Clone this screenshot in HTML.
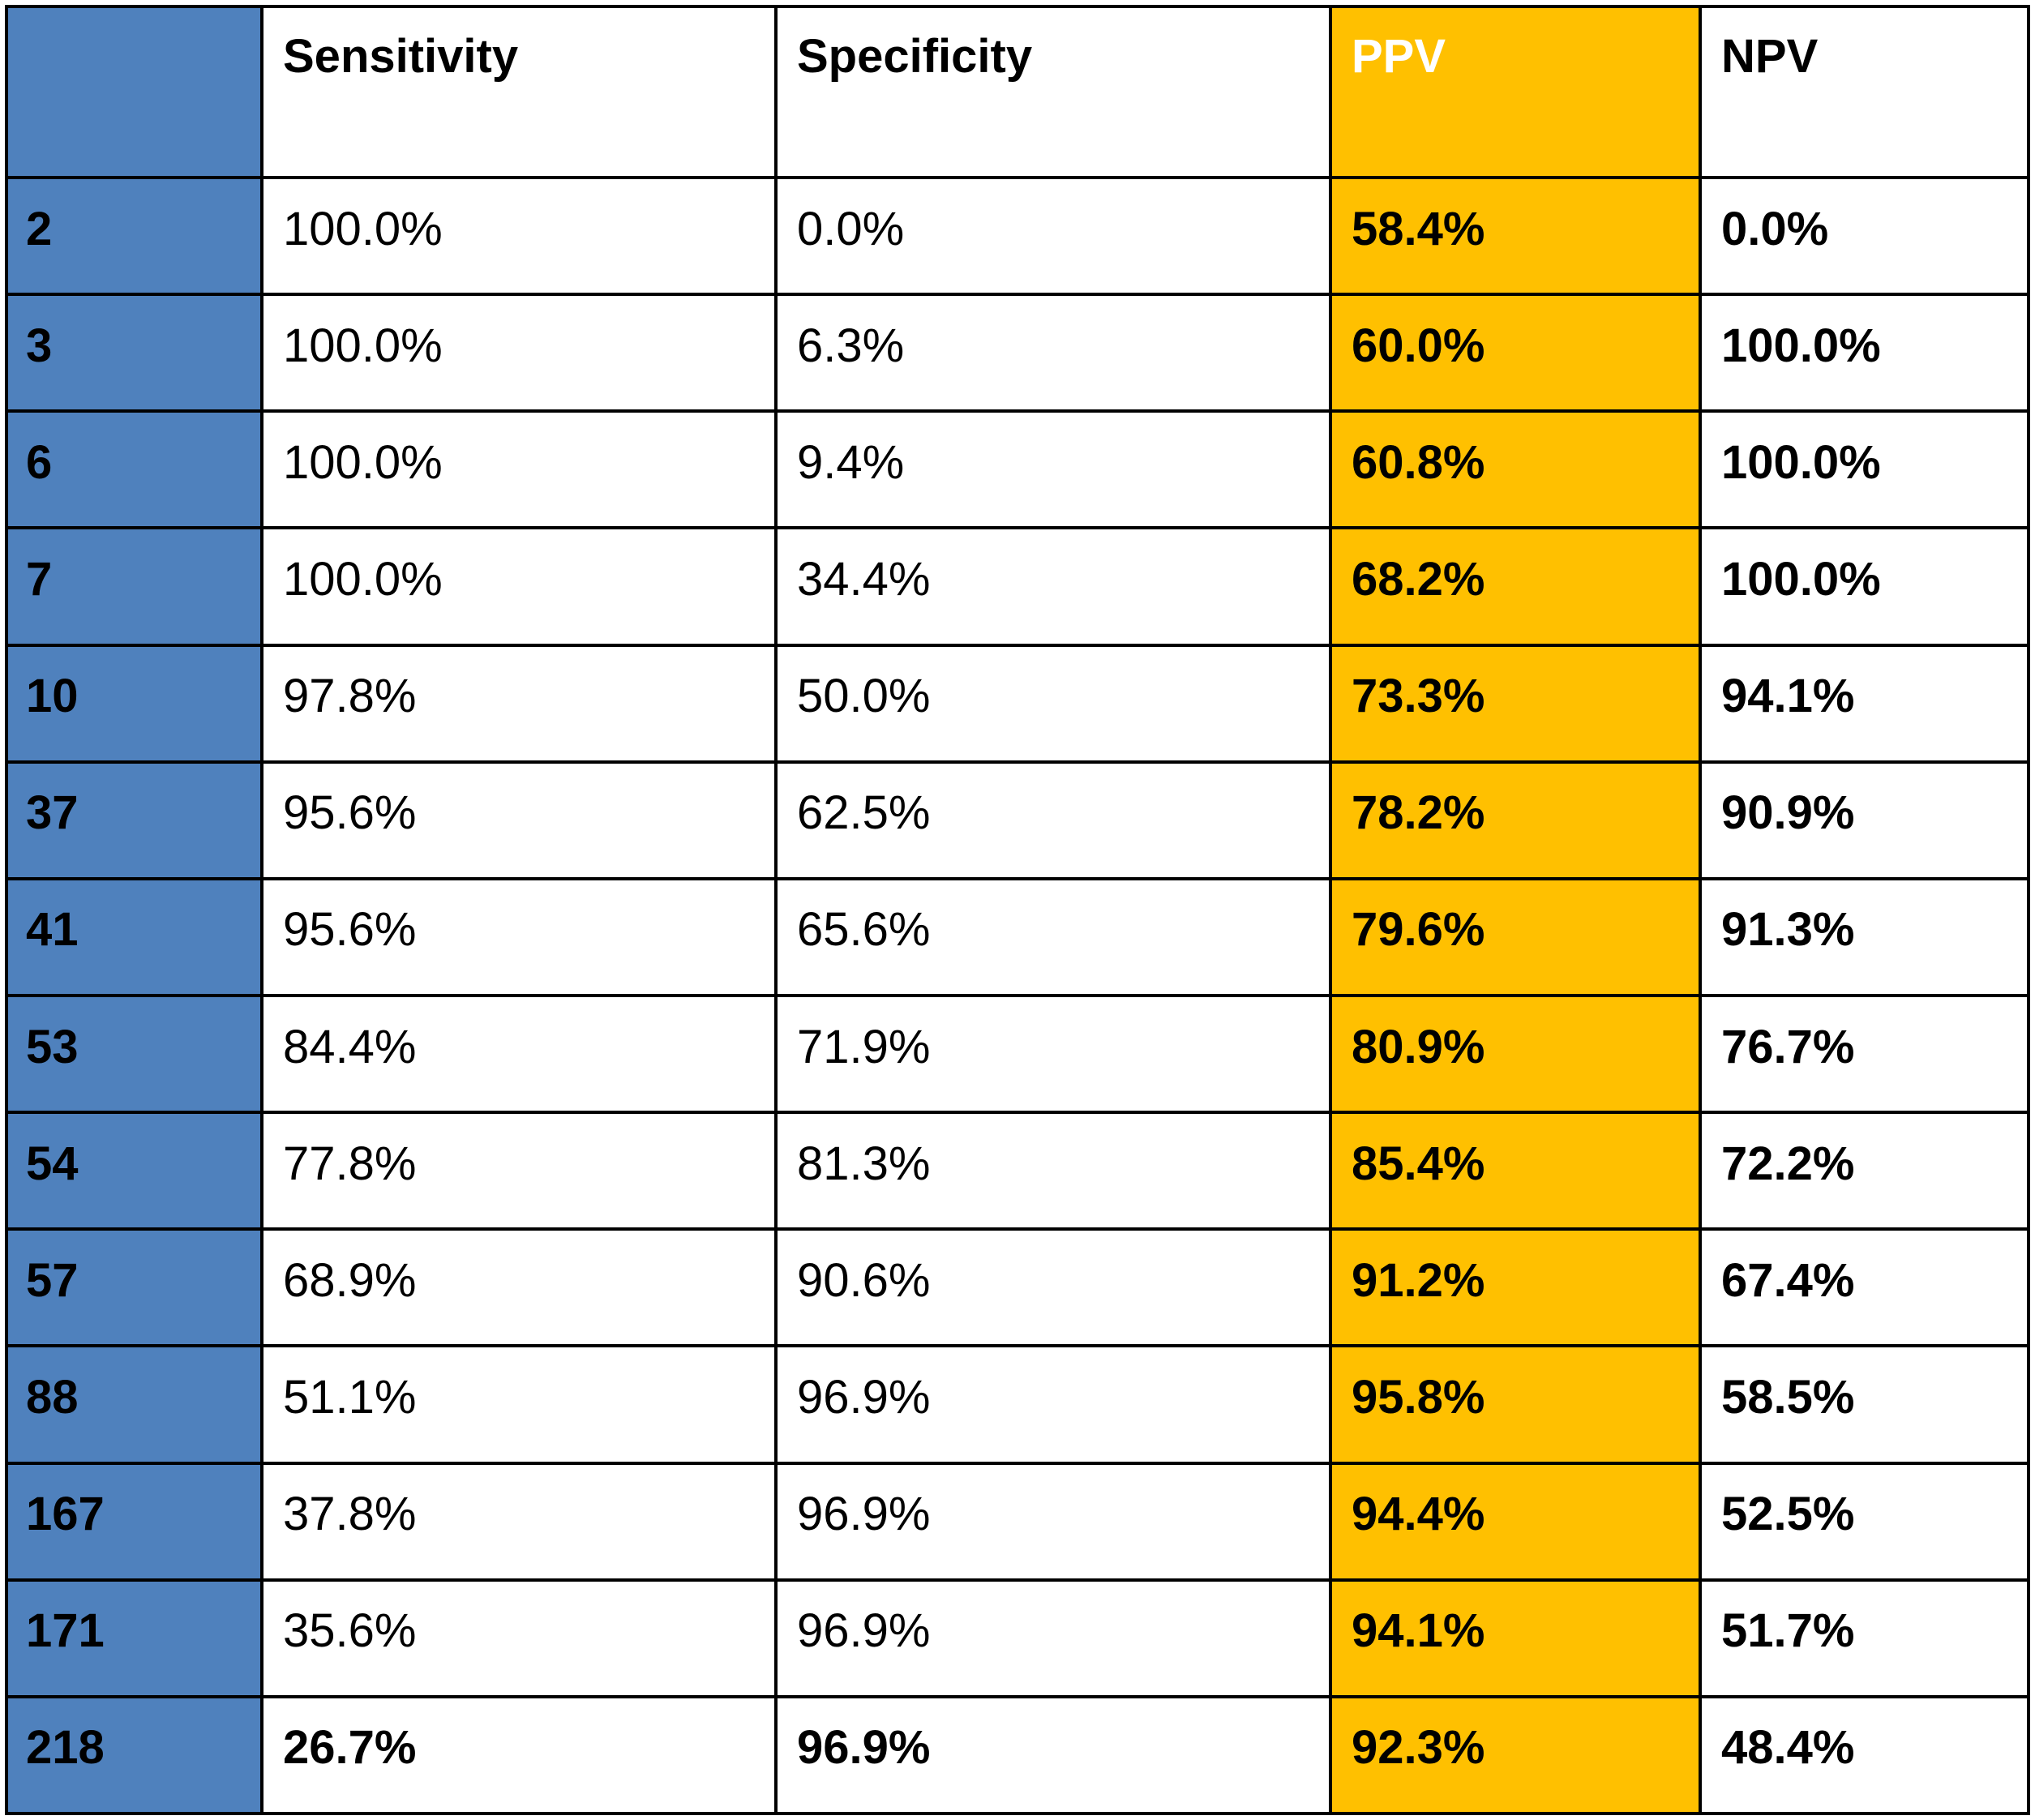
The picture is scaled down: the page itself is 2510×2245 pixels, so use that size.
<!DOCTYPE html>
<html><head><meta charset="utf-8">
<style>
html,body{margin:0;padding:0;background:#fff;}
#wrap{position:relative;width:2510px;height:2245px;overflow:hidden;background:#fff;font-family:"Liberation Sans",Arial,sans-serif;}
.cell{position:absolute;}
.ln{position:absolute;background:#000;}
.tx{position:absolute;font-size:58px;line-height:normal;white-space:nowrap;color:#000;}
.b{font-weight:bold;}
</style></head>
<body>
<div id="wrap"></div>
<script>
const headers = ["", "Sensitivity", "Specificity", "PPV", "NPV"];
const thresholds = ["2","3","6","7","10","37","41","53","54","57","88","167","171","218"];
const sensitivity = ["100.0%","100.0%","100.0%","100.0%","97.8%","95.6%","95.6%","84.4%","77.8%","68.9%","51.1%","37.8%","35.6%","26.7%"];
const specificity = ["0.0%","6.3%","9.4%","34.4%","50.0%","62.5%","65.6%","71.9%","81.3%","90.6%","96.9%","96.9%","96.9%","96.9%"];
const ppv = ["58.4%","60.0%","60.8%","68.2%","73.3%","78.2%","79.6%","80.9%","85.4%","91.2%","95.8%","94.4%","94.1%","92.3%"];
const npv = ["0.0%","100.0%","100.0%","100.0%","94.1%","90.9%","91.3%","76.7%","72.2%","67.4%","58.5%","52.5%","51.7%","48.4%"];

const wrap = document.getElementById('wrap');
const colX = [8,323,957,1641,2097,2502];
const top0 = 8, headBottom = 219, bottom = 2237;
const rowH = (bottom - headBottom) / thresholds.length;
const colBg = ["#4f81bd","#ffffff","#ffffff","#ffc000","#ffffff"];
const colNames = ["threshold","sensitivity","specificity","ppv","npv"];
const cols = [thresholds, sensitivity, specificity, ppv, npv];

function addText(x, baseline, txt, bold, color){
  const t = document.createElement('div');
  t.className = 'tx' + (bold ? ' b' : '');
  t.style.left = x + 'px';
  t.style.top = (baseline - 0.905*58) + 'px';
  if (color) t.style.color = color;
  t.textContent = txt;
  return t;
}

// column backgrounds
for (let c=0;c<5;c++){
  const d = document.createElement('div');
  d.className='cell';
  
  
  d.style.left=colX[c]+'px'; d.style.top=top0+'px';
  d.style.width=(colX[c+1]-colX[c])+'px'; d.style.height=(bottom-top0)+'px';
  d.style.background=colBg[c];
  wrap.appendChild(d);
}
// headers
for (let c=1;c<5;c++){
  const t = addText(colX[c]+26, top0+80, headers[c], true, c===3 ? '#ffffff' : null);
  
  
  wrap.appendChild(t);
}
// body
for (let r=0;r<thresholds.length;r++){
  const rt = headBottom + r*rowH;
  const last = r === thresholds.length-1;
  for (let c=0;c<5;c++){
    const bold = c===0 || c>=3 || last;
    const t = addText(colX[c]+(c===0?24:26), rt+82, cols[c][r], bold, null);
    
    
    wrap.appendChild(t);
  }
}
// horizontal lines
const hy = [top0, headBottom];
for (let r=1;r<=thresholds.length;r++) hy.push(headBottom + r*rowH);
hy.forEach((y,i)=>{
  const l=document.createElement('div');
  l.className='ln';
  
  
  l.style.left=(colX[0]-2)+'px'; l.style.width=(colX[5]-colX[0]+4)+'px';
  l.style.top=(y-2)+'px'; l.style.height='4px';
  wrap.appendChild(l);
});
// vertical lines
colX.forEach(x=>{
  const l=document.createElement('div');
  l.className='ln';
  
  
  l.style.left=(x-2)+'px'; l.style.width='4px';
  l.style.top=(top0-2)+'px'; l.style.height=(bottom-top0+4)+'px';
  wrap.appendChild(l);
});
</script>
</body></html>
